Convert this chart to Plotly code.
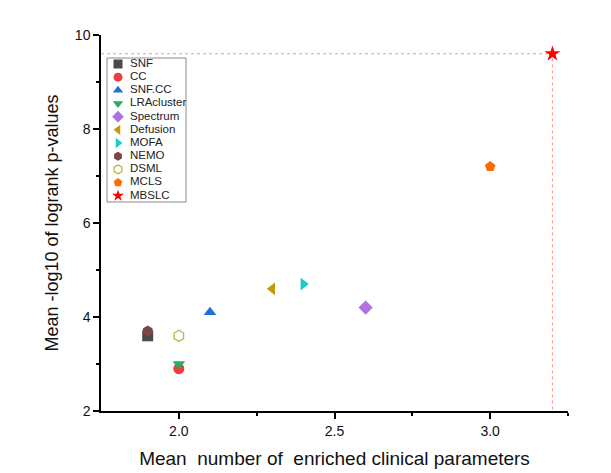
import plotly.graph_objects as go

methods = ["SNF", "CC", "SNF.CC", "LRAcluster", "Spectrum", "Defusion", "MOFA", "NEMO", "DSML", "MCLS", "MBSLC"]
x_vals = [1.9, 2.0, 2.1, 2.0, 2.6, 2.3, 2.4, 1.9, 2.0, 3.0, 3.2]
y_vals = [3.6, 2.9, 4.1, 3.0, 4.2, 4.6, 4.7, 3.7, 3.6, 7.2, 9.6]
symbols = ["square", "circle", "triangle-up", "triangle-down", "diamond", "triangle-left",
           "triangle-right", "hexagon", "hexagon-open", "pentagon", "star"]
colors = ["#4a4a4a", "#ef3b3b", "#1d6fe0", "#2aad62", "#b072e0", "#c9960c",
          "#1ccbcb", "#7a4848", "#b5b540", "#ff6a00", "#ff0000"]
x_ticks = [2.0, 2.5, 3.0]
y_ticks = [2, 4, 6, 8, 10]

# plot area size in px (used for the hand-drawn legend overlay)
PW, PH = 467, 376

fig = go.Figure()
# reference lines to best method (MBSLC)
bx, by = x_vals[-1], y_vals[-1]
fig.add_trace(go.Scatter(x=[1.75, bx, bx], y=[by, by, 2], mode="lines",
                         line=dict(color="#ff9090", width=1, dash="dot"),
                         showlegend=False, hoverinfo="skip"))
for m, xv, yv, s, c in zip(methods, x_vals, y_vals, symbols, colors):
    fig.add_trace(go.Scatter(
        x=[xv], y=[yv], mode="markers", name=m, showlegend=False,
        marker=dict(symbol=s, color=c, size=11 if s != "star" else 12,
                    line=dict(width=1.2 if s == "hexagon-open" else 0, color=c)),
    ))

# compact legend drawn on an overlay axis in pixel units
n = len(methods)
row0, step = 29, 13.17
ly = [row0 + i * step for i in range(n)]
fig.add_trace(go.Scatter(
    x=[17] * n, y=ly, mode="markers", xaxis="x2", yaxis="y2", showlegend=False, hoverinfo="skip",
    marker=dict(symbol=symbols, color=colors, size=9,
                line=dict(width=[1.2 if s == "hexagon-open" else 0 for s in symbols], color=colors)),
))
fig.add_trace(go.Scatter(
    x=[29] * n, y=ly, mode="text", text=methods, textposition="middle right",
    xaxis="x2", yaxis="y2", showlegend=False, hoverinfo="skip",
    textfont=dict(size=11.5, color="#222222", family="Arial, Liberation Sans, sans-serif"),
))
fig.add_shape(type="rect", xref="x2", yref="y2", x0=6, x1=85, y0=23, y1=167,
              line=dict(color="#8a8a8a", width=1), fillcolor="white", layer="below")

fig.update_layout(
    width=611, height=473,
    margin=dict(l=93, r=51, t=27, b=70),
    plot_bgcolor="white", paper_bgcolor="white",
    font=dict(family="Arial, Liberation Sans, sans-serif", color="#111111"),
    showlegend=False,
    xaxis=dict(range=[1.75, 3.25], tickvals=x_ticks, ticktext=["2.0", "2.5", "3.0"],
               showgrid=False, zeroline=False, showline=True, linecolor="black", linewidth=1.5,
               ticks="outside", ticklen=6, tickwidth=1.5, tickcolor="black",
               minor=dict(tickvals=[2.25, 2.75, 3.25], ticks="outside", ticklen=3, tickwidth=1.5, tickcolor="black"),
               tickfont=dict(size=14),
               title=dict(text="Mean  number of  enriched clinical parameters", font=dict(size=19), standoff=14)),
    yaxis=dict(range=[2, 10], tickvals=y_ticks,
               showgrid=False, zeroline=False, showline=True, linecolor="black", linewidth=1.5,
               ticks="outside", ticklen=6, tickwidth=1.5, tickcolor="black",
               minor=dict(tickvals=[3, 5, 7, 9], ticks="outside", ticklen=3, tickwidth=1.5, tickcolor="black"),
               tickfont=dict(size=14),
               title=dict(text="Mean -log10 of logrank p-values", font=dict(size=18), standoff=12)),
    xaxis2=dict(range=[0, PW], overlaying="x", visible=False, fixedrange=True),
    yaxis2=dict(range=[PH, 0], overlaying="y", visible=False, fixedrange=True),
)
fig.write_html("out.html")
